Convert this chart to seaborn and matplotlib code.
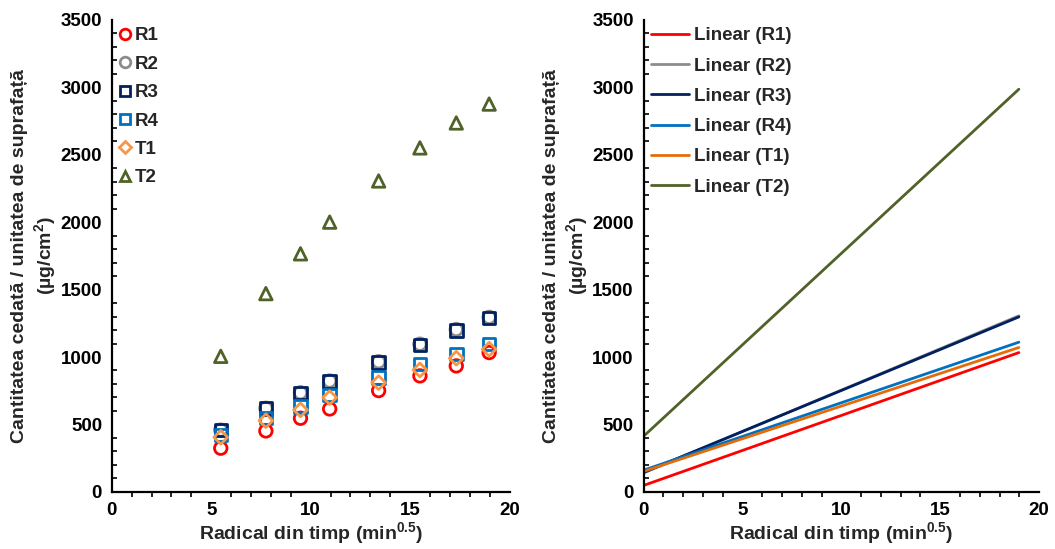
import numpy as np
import pandas as pd
import matplotlib
matplotlib.use("Agg")
import matplotlib.pyplot as plt
import seaborn as sns
from matplotlib.ticker import MultipleLocator
from matplotlib.lines import Line2D

# ---- data ----
time_min = [30, 60, 90, 120, 180, 240, 300, 360]
sqrt_t = list(np.sqrt(time_min))
R1 = [324, 452, 546, 615, 751, 860, 934, 1033]
R2 = [458, 620, 735, 822, 965, 1095, 1204, 1294]
R3 = [460, 620, 732, 818, 959, 1090, 1196, 1288]
R4 = [423, 548, 632, 719, 847, 947, 1021, 1095]
T1 = [405, 528, 608, 699, 810, 904, 991, 1058]
T2 = [1005, 1470, 1765, 2000, 2305, 2550, 2735, 2875]
series_names = ["R1", "R2", "R3", "R4", "T1", "T2"]
series_vals = [R1, R2, R3, R4, T1, T2]

marker_colors = ["#FF0000", "#8C8C8C", "#002060", "#0070C0", "#F79646", "#4F6228"]
line_colors = ["#FF0000", "#8C8C8C", "#002060", "#0070C0", "#E46C0A", "#4F6228"]
markers = ["o", "o", "s", "s", "D", "^"]
msizes = [9, 9, 9, 9, 7, 9]

sns.set_style("white")
plt.rcParams["font.family"] = ["Liberation Sans", "DejaVu Sans"]
plt.rcParams["font.weight"] = "bold"
plt.rcParams["mathtext.fontset"] = "custom"
plt.rcParams["mathtext.bf"] = "Liberation Sans:bold"
plt.rcParams["mathtext.rm"] = "Liberation Sans:bold"
plt.rcParams["mathtext.default"] = "bf"

fig = plt.figure(figsize=(10.55, 5.49), dpi=100)
axL = fig.add_axes([0.106, 0.104, 0.377, 0.860])
axR = fig.add_axes([0.610, 0.104, 0.375, 0.860])

df = pd.DataFrame({"x": np.tile(sqrt_t, len(series_names)),
                   "y": np.concatenate(series_vals),
                   "s": np.repeat(series_names, len(sqrt_t))})

# Left: scatter
for name, mk, c, ms in zip(series_names, markers, marker_colors, msizes):
    sub = df[df.s == name]
    sns.scatterplot(data=sub, x="x", y="y", ax=axL, marker=mk, s=ms**2,
                    facecolor="none", edgecolor=c, linewidth=2.0, zorder=3)

# Right: linear fits
for name, c in zip(series_names, line_colors):
    sub = df[df.s == name]
    k, b = np.polyfit(sub.x, sub.y, 1)
    xs = np.array([0.0, sub.x.max()])
    sns.lineplot(x=xs, y=k * xs + b, ax=axR, color=c, linewidth=2.0)

ylab = "Cantitatea cedată / unitatea de suprafață\n(µg/cm$^{\\mathbf{2}}$)"
xlab = "Radical din timp (min$^{\\mathbf{0.5}}$)"
for ax in (axL, axR):
    ax.set_xlim(0, 20)
    ax.set_ylim(0, 3500)
    ax.xaxis.set_major_locator(MultipleLocator(5))
    ax.xaxis.set_minor_locator(MultipleLocator(1))
    ax.yaxis.set_major_locator(MultipleLocator(500))
    ax.yaxis.set_minor_locator(MultipleLocator(100))
    for sp in ["top", "right"]:
        ax.spines[sp].set_visible(False)
    for sp in ["left", "bottom"]:
        ax.spines[sp].set_color("black")
        ax.spines[sp].set_linewidth(1.6)
    ax.tick_params(axis="both", which="major", direction="inout", length=8,
                   width=1.6, labelsize=13.5, colors="black", pad=3)
    ax.tick_params(axis="x", which="minor", direction="out", length=3.5, width=1.4)
    ax.tick_params(axis="y", which="minor", direction="in", length=3.5, width=1.4)
    ax.tick_params(axis="both", which="minor", bottom=True, left=True)
    for lbl in ax.get_xticklabels() + ax.get_yticklabels():
        lbl.set_fontweight("bold")
    ax.set_xlabel(xlab, fontsize=14, fontweight="bold", labelpad=1)
    ax.set_ylabel(ylab, fontsize=14, fontweight="bold", labelpad=2)
    ax.grid(False)

# Legends
hL = [Line2D([], [], linestyle="none", marker=mk, markersize=ms * 0.85,
             markerfacecolor="none", markeredgecolor=c, markeredgewidth=2.0)
      for mk, c, ms in zip(markers, marker_colors, msizes)]
axL.legend(hL, series_names, loc="upper left", frameon=False,
           prop={"weight": "bold", "size": 13.5}, handlelength=0.6, handletextpad=0.2,
           labelspacing=0.6, borderaxespad=0.0, bbox_to_anchor=(0.0, 1.0))
hR = [Line2D([], [], color=c, linewidth=2.0) for c in line_colors]
axR.legend(hR, [f"Linear ({n})" for n in series_names], loc="upper left",
           frameon=False, prop={"weight": "bold", "size": 13.5}, handlelength=2.0,
           handletextpad=0.3, labelspacing=0.7, borderaxespad=0.0,
           bbox_to_anchor=(0.0, 1.0))

fig.savefig("out.png", dpi=100)
